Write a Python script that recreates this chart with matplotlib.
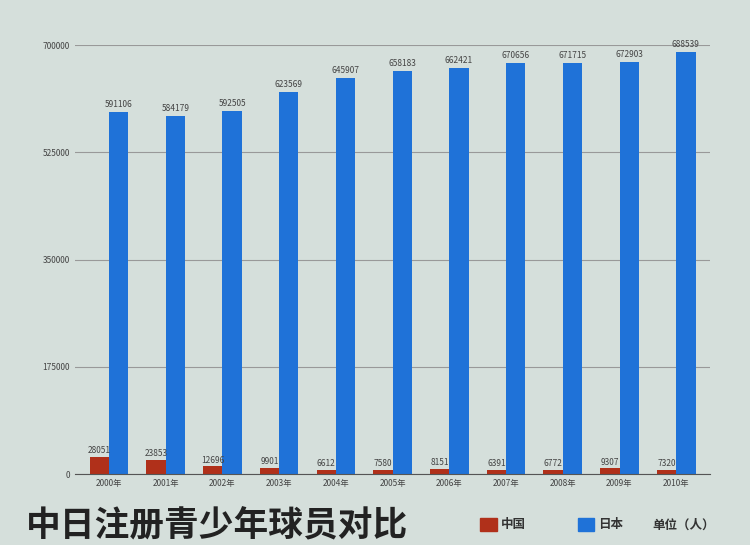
import matplotlib
matplotlib.use("Agg")
import matplotlib.pyplot as plt
import numpy as np
from matplotlib.patches import Rectangle

plt.rcParams["font.family"] = ["Noto Sans CJK SC", "DejaVu Sans"]

years = ["2000年", "2001年", "2002年", "2003年", "2004年", "2005年", "2006年", "2007年", "2008年", "2009年", "2010年"]
china = [28051, 23853, 12696, 9901, 6612, 7580, 8151, 6391, 6772, 9307, 7320]
japan = [591106, 584179, 592505, 623569, 645907, 658183, 662421, 670656, 671715, 672903, 688539]
yticks = [0, 175000, 350000, 525000, 700000]

bg = "#d5dfdb"
fig = plt.figure(figsize=(7.5, 5.45), dpi=100, facecolor=bg)
ax = fig.add_axes([0.1, 0.13, 0.847, 0.787], facecolor=bg)
x = np.arange(len(years))
w = 0.34
ax.bar(x - w/2, china, w, color="#b0301a")
ax.bar(x + w/2, japan, w, color="#1f72d8")
for xi, v in zip(x, china):
    ax.text(xi - w/2, v + 3000, str(v), ha="center", va="bottom", fontsize=6, color="#444")
for xi, v in zip(x, japan):
    ax.text(xi + w/2, v + 5000, str(v), ha="center", va="bottom", fontsize=6, color="#444")
ax.set_xlim(-0.6, len(years) - 0.4)
ax.set_ylim(0, 700000)
ax.set_yticks(yticks)
ax.set_yticklabels([str(t) for t in yticks], fontsize=6, color="#444")
ax.set_xticks(x)
ax.set_xticklabels(years, fontsize=6, color="#444")
ax.grid(axis="y", color="#999999", linewidth=0.8)
ax.set_axisbelow(True)
for s in ["top", "right", "left"]:
    ax.spines[s].set_visible(False)
ax.spines["bottom"].set_color("#555")
ax.tick_params(length=0)

fig.text(0.035, 0.035, "中日注册青少年球员对比", fontsize=25, fontweight="bold", color="#222", va="center")
fig.patches.append(Rectangle((0.64, 0.025), 0.022, 0.025, transform=fig.transFigure, color="#b0301a"))
fig.text(0.668, 0.037, "中国", fontsize=9, fontweight="bold", va="center", color="#333")
fig.patches.append(Rectangle((0.77, 0.025), 0.022, 0.025, transform=fig.transFigure, color="#1f72d8"))
fig.text(0.798, 0.037, "日本", fontsize=9, fontweight="bold", va="center", color="#333")
fig.text(0.87, 0.037, "单位（人）", fontsize=9, fontweight="bold", va="center", color="#333")
fig.savefig("out.png", dpi=100, facecolor=bg)
